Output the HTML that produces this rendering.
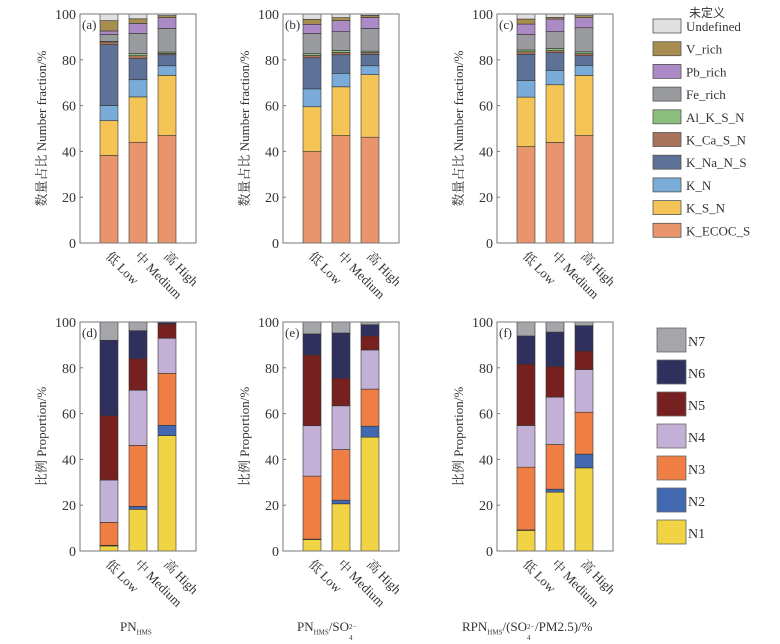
<!DOCTYPE html>
<html><head><meta charset="utf-8"><style>
body{margin:0;background:#fff;}
svg{display:block;font-family:"Liberation Serif","Noto Serif CJK SC",serif;}
</style></head><body>
<svg id="chart" width="780" height="644" viewBox="0 0 780 644" xmlns="http://www.w3.org/2000/svg"></svg>
<script>
const categories = ["低 Low","中 Medium","高 High"];
const typeNames = ["K_ECOC_S","K_S_N","K_N","K_Na_N_S","K_Ca_S_N","Al_K_S_N","Fe_rich","Pb_rich","V_rich","Undefined"];
const typeColors = ["#e8956e","#f5c457","#79acd8","#5d7296","#a8735a","#8cbf7e","#9a9b9f","#ab8ac6","#a88d50","#e0e0e0"];
const nNames = ["N1","N2","N3","N4","N5","N6","N7"];
const nColors = ["#f1d443","#4168b0","#ee7e43","#c3b0d6","#76201f","#30305e","#a5a6a9"];
// panel a: per category, segments bottom->top
const panelA = [
 [38.2,15.2,6.6,26.6,1.2,0.2,3.1,1.5,4.5,2.9],
 [44.0,19.8,7.5,9.2,1.3,0.9,8.8,4.4,2.0,2.1],
 [46.9,26.3,4.2,4.8,0.6,0.6,10.3,4.7,0.9,0.7]];
const panelB = [
 [39.9,19.6,7.8,13.6,1.0,0.8,8.8,4.0,2.2,2.3],
 [46.9,21.3,5.9,8.1,1.0,0.9,8.2,4.8,1.3,1.6],
 [46.2,27.3,3.9,5.0,0.8,0.6,9.9,4.8,0.9,0.6]];
const panelC = [
 [42.1,21.6,7.3,11.4,1.1,0.8,6.8,4.5,2.2,2.2],
 [43.9,25.2,6.3,7.7,0.9,1.0,7.3,5.5,0.7,1.5],
 [46.9,26.3,4.4,4.2,0.9,0.8,10.5,4.4,0.9,0.7]];
const panelD = [
 [2.2,0.3,10.0,18.5,28.1,32.9,8.0],
 [18.2,1.3,26.6,24.1,13.8,12.2,3.8],
 [50.4,4.5,22.7,15.3,6.2,0.6,0.3]];
const panelE = [
 [5.0,0.2,27.5,22.0,30.9,9.2,5.2],
 [20.6,1.6,22.1,19.1,12.0,19.8,4.8],
 [49.7,4.8,16.2,17.1,6.1,4.9,1.2]];
const panelF = [
 [9.0,0.2,27.4,18.2,26.8,12.3,6.1],
 [25.7,1.3,19.5,20.7,13.4,15.0,4.4],
 [36.3,6.0,18.3,18.6,8.1,11.1,1.6]];
const yTicks = [0,20,40,60,80,100];

const svg = document.getElementById('chart');
const NS = "http://www.w3.org/2000/svg";
function mk(tag, attrs, parent){const e=document.createElementNS(NS,tag);for(const k in attrs)e.setAttribute(k,attrs[k]);(parent||svg).appendChild(e);return e;}

function drawPanel(x0, yTop, yBot, data, colors, names, label, ytitle, pname){
  const g = mk('g',{});
  
  
  const W = 116;
  const y = v => yBot - (yBot - yTop) * v / 100;
  const barX = i => x0 + 20 + i * 29;
  // bars
  data.forEach((segs, i) => {
    let acc = 0;
    segs.forEach((v, k) => {
      const r = mk('rect',{x:barX(i),y:y(acc+v),width:18,height:Math.max(0,y(acc)-y(acc+v)),fill:colors[k],stroke:'#333','stroke-width':0.6},g);
      
      
      acc += v;
    });
  });
  // axes box
  const box = mk('rect',{x:x0,y:yTop,width:W,height:yBot-yTop,fill:'none',stroke:'#777','stroke-width':1},g);
  
  
  yTicks.forEach(t => {
    mk('line',{x1:x0,x2:x0+3,y1:y(t),y2:y(t),stroke:'#777'},g);
    const tx = mk('text',{x:x0-4,y:y(t)+5,'text-anchor':'end','font-size':14,fill:'#333'},g);
    tx.textContent = t;
    
    
  });
  categories.forEach((c,i) => {
    const cx = barX(i) + 9, cy = yBot + 6;
    const tx = mk('text',{x:cx-4,y:cy+8,'font-size':13,fill:'#333',transform:`rotate(45 ${cx-4} ${cy+8})`},g);
    tx.textContent = c;
    
    
  });
  const lb = mk('text',{x:x0+2,y:yTop+15,'font-size':13,fill:'#333'},g);
  lb.textContent = label;
  
  
  const ty = (yTop + yBot) / 2, tx0 = x0 - 34;
  const tt = mk('text',{x:tx0,y:ty,'text-anchor':'middle','font-size':13,fill:'#333',transform:`rotate(-90 ${tx0} ${ty})`},g);
  tt.textContent = ytitle;
  
  
}
const xs = [80, 283, 497];
drawPanel(xs[0],14,243,panelA,typeColors,typeNames,'(a)','数量占比 Number fraction/%','panel-a');
drawPanel(xs[1],14,243,panelB,typeColors,typeNames,'(b)','数量占比 Number fraction/%','panel-b');
drawPanel(xs[2],14,243,panelC,typeColors,typeNames,'(c)','数量占比 Number fraction/%','panel-c');
drawPanel(xs[0],322,551,panelD,nColors,nNames,'(d)','比例 Proportion/%','panel-d');
drawPanel(xs[1],322,551,panelE,nColors,nNames,'(e)','比例 Proportion/%','panel-e');
drawPanel(xs[2],322,551,panelF,nColors,nNames,'(f)','比例 Proportion/%','panel-f');

// top legend
const lg1 = mk('g',{});


const t0 = mk('text',{x:689,y:17,'font-size':12,fill:'#333','font-family':'"Noto Sans CJK SC",sans-serif'},lg1);
t0.textContent = '未定义';
for (let j = 0; j < typeNames.length; j++) {
  const k = typeNames.length - 1 - j;
  const cy = 26 + j * 22.7;
  const e = mk('g',{},lg1);
  
  
  mk('rect',{x:653,y:cy-7,width:28,height:14,fill:typeColors[k],stroke:'#555','stroke-width':0.8},e);
  const t = mk('text',{x:686,y:cy+5,'font-size':13,fill:'#333'},e);
  t.textContent = typeNames[k];
}
// bottom legend
const lg2 = mk('g',{});


for (let j = 0; j < nNames.length; j++) {
  const k = nNames.length - 1 - j;
  const cy = 340 + j * 32;
  const e = mk('g',{},lg2);
  
  
  mk('rect',{x:657,y:cy-12,width:29,height:24,fill:nColors[k],stroke:'#666','stroke-width':0.8},e);
  const t = mk('text',{x:688,y:cy+6,'font-size':14,fill:'#333'},e);
  t.textContent = nNames[k];
}
</script>
<svg width="0" height="0"></svg>
<div style="position:absolute;left:0;top:0;width:780px;height:644px;pointer-events:none;font-family:'Liberation Serif',serif;color:#333;font-size:13px;">
  <div style="position:absolute;left:120px;top:619px;">PN<sub style="font-size:7px">HMS</sub></div>
  <div style="position:absolute;left:297px;top:619px;">PN<sub style="font-size:7px">HMS</sub>/SO<span style="display:inline-block;position:relative;font-size:7px;width:8px;"><span style="position:absolute;top:-8px;left:0">2−</span><span style="position:absolute;top:3px;left:0">4</span></span></div>
  <div style="position:absolute;left:462px;top:619px;">RPN<sub style="font-size:7px">HMS</sub>/(SO<span style="display:inline-block;position:relative;font-size:7px;width:8px;"><span style="position:absolute;top:-8px;left:0">2−</span><span style="position:absolute;top:3px;left:0">4</span></span>/PM2.5)/%</div>
</div>
</body></html>
